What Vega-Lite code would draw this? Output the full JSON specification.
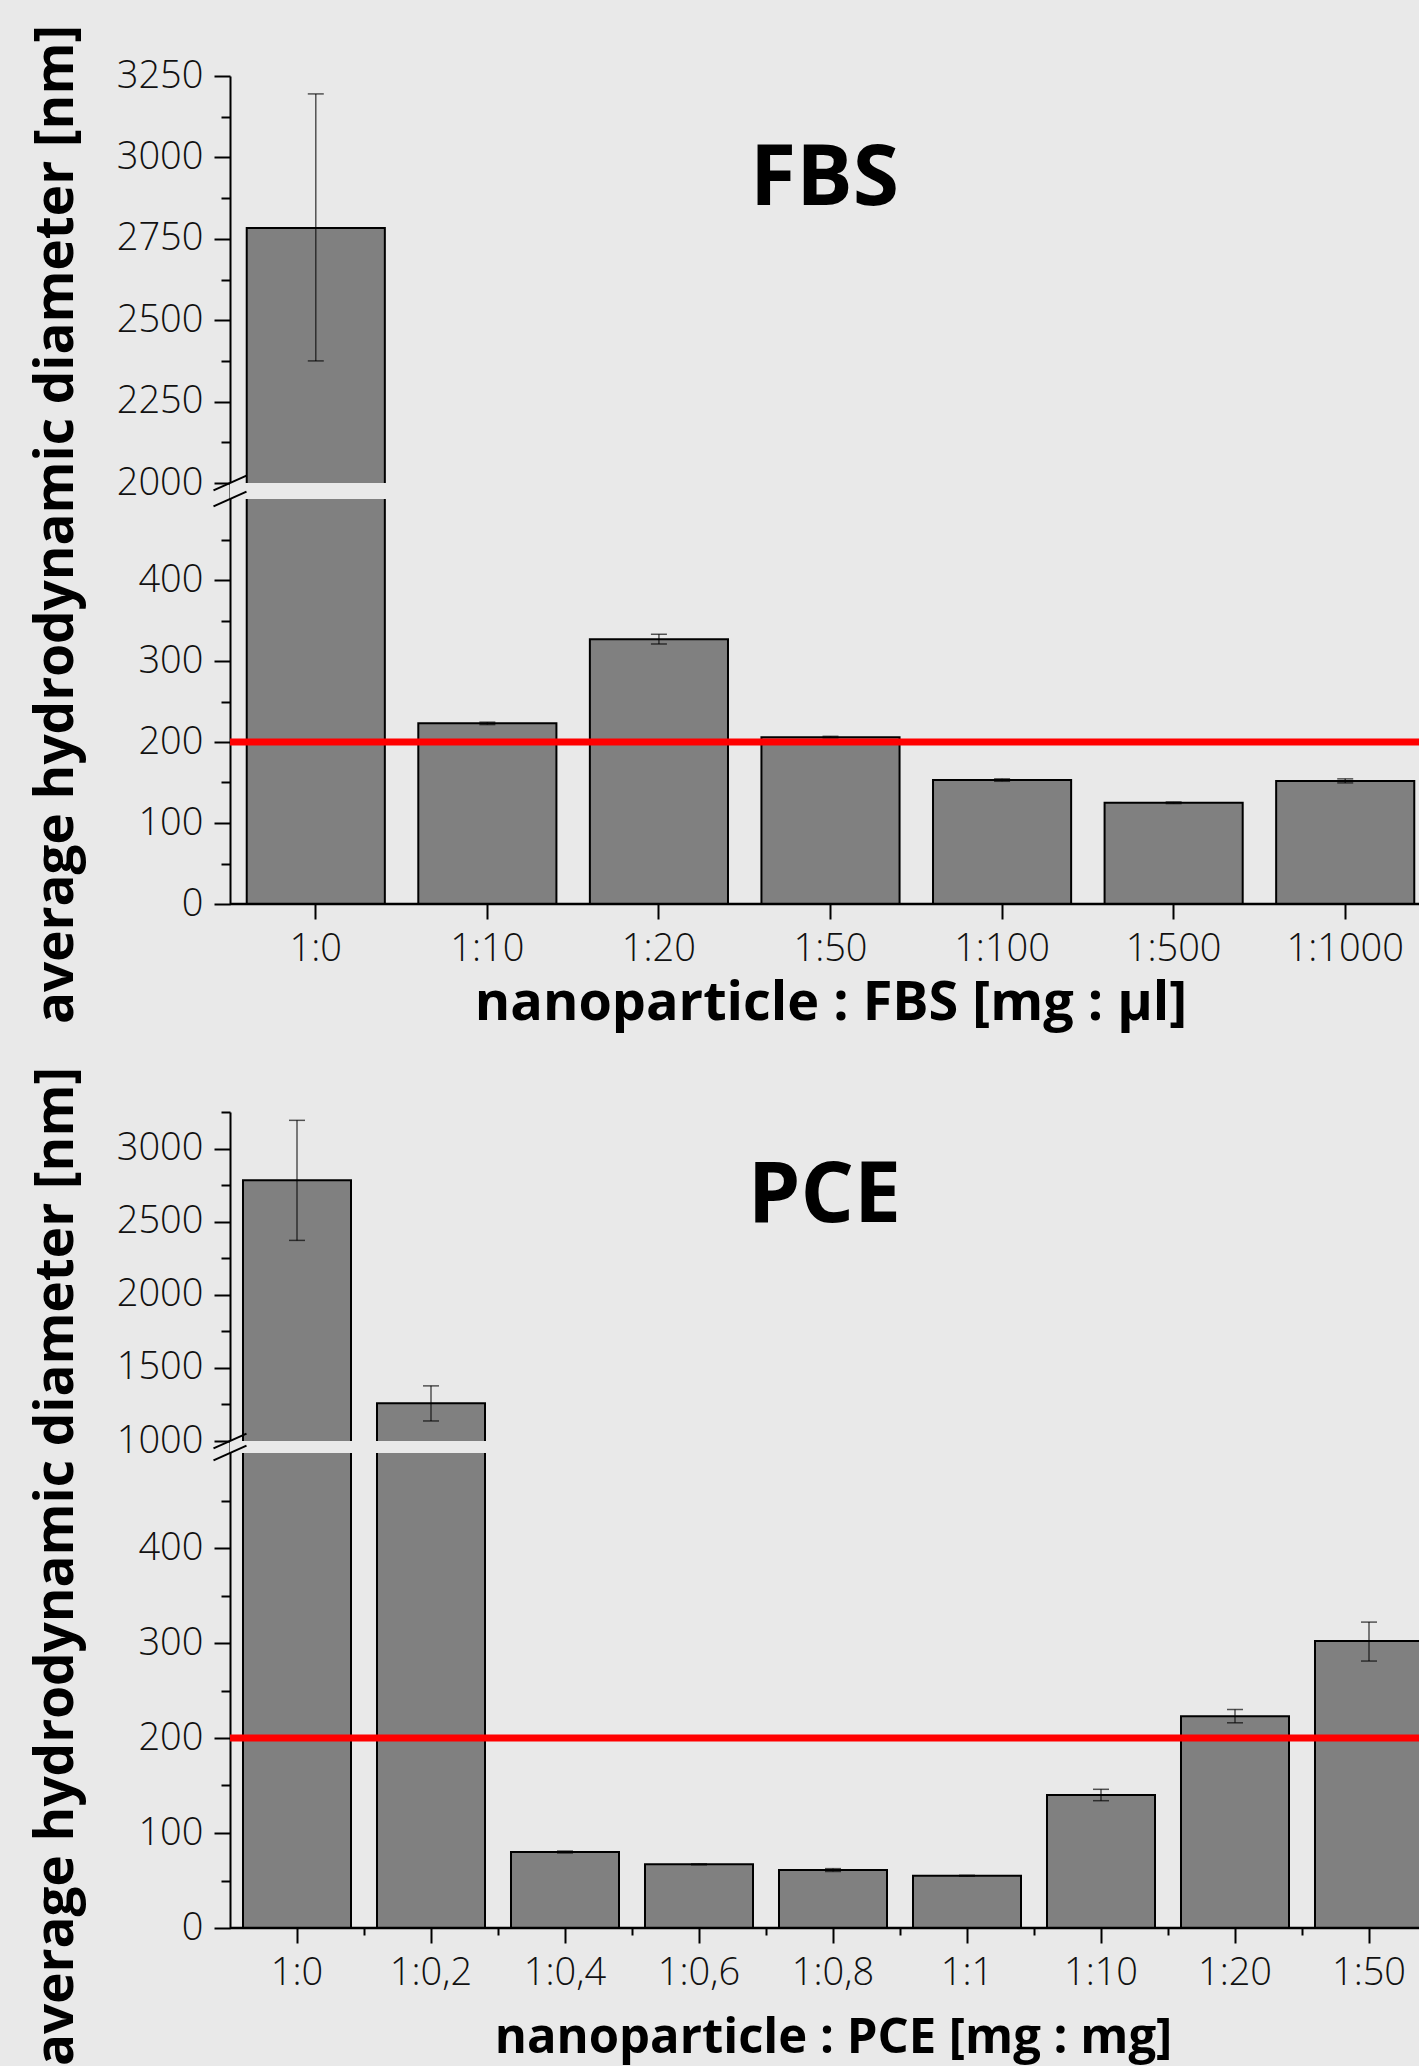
{
  "$schema": "https://vega.github.io/schema/vega-lite/v6.json",
  "background": "#e9e9e9",
  "padding": {"left": 29, "top": 24, "right": 0, "bottom": 0},
  "bounds": "flush",
  "spacing": 208,
  "config": {
    "view": {"stroke": null},
    "font": "Open Sans",
    "axis": {"grid": false, "labelFont": "Open Sans", "titleFont": "Open Sans", "labelColor": "#111111", "titleColor": "#000000", "tickColor": "#000000", "domainColor": "#000000", "labelOverlap": false}
  },
  "datasets": {
    "fbs": [
      {"ratio": "1:0", "mean": 2783, "lo": 2375, "hi": 3195},
      {"ratio": "1:10", "mean": 223, "lo": 221.5, "hi": 224.5},
      {"ratio": "1:20", "mean": 327, "lo": 321, "hi": 333},
      {"ratio": "1:50", "mean": 206, "lo": 205, "hi": 207},
      {"ratio": "1:100", "mean": 153, "lo": 151.5, "hi": 154.5},
      {"ratio": "1:500", "mean": 125, "lo": 124, "hi": 126},
      {"ratio": "1:1000", "mean": 152, "lo": 149.5, "hi": 154.5}
    ],
    "pce": [
      {"ratio": "1:0", "mean": 2783, "lo": 2372, "hi": 3193},
      {"ratio": "1:0,2", "mean": 1258, "lo": 1137, "hi": 1377},
      {"ratio": "1:0,4", "mean": 80, "lo": 79, "hi": 81},
      {"ratio": "1:0,6", "mean": 67, "lo": 66.5, "hi": 67.5},
      {"ratio": "1:0,8", "mean": 61, "lo": 59.5, "hi": 62.5},
      {"ratio": "1:1", "mean": 55, "lo": 54.5, "hi": 55.5},
      {"ratio": "1:10", "mean": 140, "lo": 134, "hi": 146},
      {"ratio": "1:20", "mean": 223, "lo": 216, "hi": 230},
      {"ratio": "1:50", "mean": 302, "lo": 281, "hi": 322}
    ]
  },
  "vconcat": [
    {
      "width": 1189,
      "height": 828,
      "title": {"text": "FBS", "frame": "group", "anchor": "middle", "orient": "top", "offset": -264, "baseline": "alphabetic", "fontSize": 84, "fontWeight": "bold", "font": "Open Sans", "color": "#000000"},
      "data": {"name": "fbs"},
      "resolve": {"axis": {"x": "independent", "y": "independent"}},
      "layer": [
        {
          "mark": {"type": "bar", "fill": "#808080", "stroke": "#000000", "strokeWidth": 2, "clip": true},
          "encoding": {
            "x": {"field": "ratio", "type": "nominal", "sort": null,
              "scale": {"range": [0, 1201], "paddingInner": 0.195, "paddingOuter": 0.0975},
              "axis": {"orient": "bottom", "title": "nanoparticle : FBS [mg : µl]", "labelAngle": 0, "domain": false, "tickSize": 15, "tickWidth": 2, "labelFontSize": 38, "labelPadding": 11, "labelFontWeight": 300, "titleFontSize": 54, "titleFontWeight": "bold", "titleBaseline": "alphabetic", "titleY": 115}},
            "y": {"field": "mean", "type": "quantitative",
              "scale": {"domain": [0, 500, 2000, 3250], "range": [828, 423, 407, 0], "zero": false, "nice": false},
              "axis": {"orient": "left", "values": [0, 100, 200, 300, 400, 2000, 2250, 2500, 2750, 3000, 3250], "format": "d", "tickSize": 16, "tickWidth": 2, "domainWidth": 2, "labelFontSize": 38, "labelPadding": 11, "labelFontWeight": 300, "title": "average hydrodynamic diameter [nm]", "titleFontSize": 53, "titleFontWeight": "bold", "titleAngle": -90, "titleBaseline": "alphabetic", "titleAlign": "center", "titleX": -158, "titleY": 448}}
          }
        },
        {
          "data": {"values": [{}]},
          "mark": {"type": "rect", "fill": "#e9e9e9"},
          "encoding": {
            "y": {"datum": 500, "type": "quantitative", "axis": {"orient": "left", "values": [50, 150, 250, 350, 450, 2125, 2375, 2625, 2875, 3125], "labels": false, "domain": false, "title": null, "tickSize": 9, "tickWidth": 2}},
            "y2": {"datum": 2000}
          }
        },
        {
          "mark": {"type": "rule", "color": "#000000", "opacity": 0.65, "strokeWidth": 1.5},
          "encoding": {
            "x": {"field": "ratio", "type": "nominal", "sort": null, "axis": null},
            "y": {"field": "lo", "type": "quantitative", "axis": null},
            "y2": {"field": "hi"}
          }
        },
        {
          "mark": {"type": "tick", "color": "#000000", "opacity": 0.65, "thickness": 1.5, "size": 16},
          "encoding": {
            "x": {"field": "ratio", "type": "nominal", "sort": null, "axis": null},
            "y": {"field": "lo", "type": "quantitative", "axis": null}
          }
        },
        {
          "mark": {"type": "tick", "color": "#000000", "opacity": 0.65, "thickness": 1.5, "size": 16},
          "encoding": {
            "x": {"field": "ratio", "type": "nominal", "sort": null, "axis": null},
            "y": {"field": "hi", "type": "quantitative", "axis": null}
          }
        },
        {
          "data": {"values": [{}]},
          "mark": {"type": "rule", "color": "#ff0000", "strokeWidth": 7},
          "encoding": {"y": {"datum": 200, "type": "quantitative", "axis": null}}
        },
        {
          "data": {"values": [{}]},
          "mark": {"type": "rule", "color": "#000000", "strokeWidth": 2.5},
          "encoding": {"y": {"datum": 0, "type": "quantitative", "axis": null}}
        },
        {
          "data": {"values": [{"b": 500}, {"b": 2000}]},
          "mark": {"type": "point", "shape": "M-1,0.45L1,-0.45", "size": 1089, "filled": false, "stroke": "#000000", "strokeWidth": 2, "opacity": 1},
          "encoding": {
            "x": {"value": 0},
            "y": {"field": "b", "type": "quantitative", "axis": null}
          }
        }
      ]
    },
    {
      "width": 1189,
      "height": 816,
      "title": {"text": "PCE", "frame": "group", "anchor": "middle", "orient": "top", "offset": -239, "baseline": "alphabetic", "fontSize": 84, "fontWeight": "bold", "font": "Open Sans", "color": "#000000"},
      "data": {"name": "pce"},
      "resolve": {"axis": {"x": "independent", "y": "independent"}},
      "layer": [
        {
          "mark": {"type": "bar", "fill": "#808080", "stroke": "#000000", "strokeWidth": 2, "clip": true},
          "encoding": {
            "x": {"field": "ratio", "type": "nominal", "sort": null,
              "scale": {"range": [0, 1206], "paddingInner": 0.194, "paddingOuter": 0.097},
              "axis": {"orient": "bottom", "title": "nanoparticle : PCE [mg : mg]", "labelAngle": 0, "domain": false, "tickSize": 15, "tickWidth": 2, "labelFontSize": 38, "labelPadding": 11, "labelFontWeight": 300, "titleFontSize": 49, "titleFontWeight": "bold", "titleBaseline": "alphabetic", "titleY": 124}},
            "y": {"field": "mean", "type": "quantitative",
              "scale": {"domain": [0, 500, 1000, 3250], "range": [816, 341, 329, 0], "zero": false, "nice": false},
              "axis": {"orient": "left", "values": [0, 100, 200, 300, 400, 1000, 1500, 2000, 2500, 3000], "format": "d", "tickSize": 16, "tickWidth": 2, "domainWidth": 2, "labelFontSize": 38, "labelPadding": 11, "labelFontWeight": 300, "title": "average hydrodynamic diameter [nm]", "titleFontSize": 53, "titleFontWeight": "bold", "titleAngle": -90, "titleBaseline": "alphabetic", "titleAlign": "center", "titleX": -158, "titleY": 454}}
          }
        },
        {
          "data": {"values": [{}]},
          "mark": {"type": "rect", "fill": "#e9e9e9"},
          "encoding": {
            "y": {"datum": 500, "type": "quantitative", "axis": {"orient": "left", "values": [50, 150, 250, 350, 450, 1250, 1750, 2250, 2750, 3250], "labels": false, "domain": false, "title": null, "tickSize": 9, "tickWidth": 2}},
            "y2": {"datum": 1000}
          }
        },
        {
          "mark": {"type": "rule", "color": "#000000", "opacity": 0.65, "strokeWidth": 1.5},
          "encoding": {
            "x": {"field": "ratio", "type": "nominal", "sort": null, "axis": {"orient": "bottom", "values": ["1:0", "1:0,2", "1:0,4", "1:0,6", "1:0,8", "1:1", "1:10", "1:20"], "bandPosition": 1, "tickOffset": 13, "labels": false, "domain": false, "title": null, "tickSize": 7, "tickWidth": 2}},
            "y": {"field": "lo", "type": "quantitative", "axis": null},
            "y2": {"field": "hi"}
          }
        },
        {
          "mark": {"type": "tick", "color": "#000000", "opacity": 0.65, "thickness": 1.5, "size": 16},
          "encoding": {
            "x": {"field": "ratio", "type": "nominal", "sort": null, "axis": null},
            "y": {"field": "lo", "type": "quantitative", "axis": null}
          }
        },
        {
          "mark": {"type": "tick", "color": "#000000", "opacity": 0.65, "thickness": 1.5, "size": 16},
          "encoding": {
            "x": {"field": "ratio", "type": "nominal", "sort": null, "axis": null},
            "y": {"field": "hi", "type": "quantitative", "axis": null}
          }
        },
        {
          "data": {"values": [{}]},
          "mark": {"type": "rule", "color": "#ff0000", "strokeWidth": 7},
          "encoding": {"y": {"datum": 200, "type": "quantitative", "axis": null}}
        },
        {
          "data": {"values": [{}]},
          "mark": {"type": "rule", "color": "#000000", "strokeWidth": 2.5},
          "encoding": {"y": {"datum": 0, "type": "quantitative", "axis": null}}
        },
        {
          "data": {"values": [{"b": 500}, {"b": 1000}]},
          "mark": {"type": "point", "shape": "M-1,0.45L1,-0.45", "size": 1089, "filled": false, "stroke": "#000000", "strokeWidth": 2, "opacity": 1},
          "encoding": {
            "x": {"value": 0},
            "y": {"field": "b", "type": "quantitative", "axis": null}
          }
        }
      ]
    }
  ]
}
